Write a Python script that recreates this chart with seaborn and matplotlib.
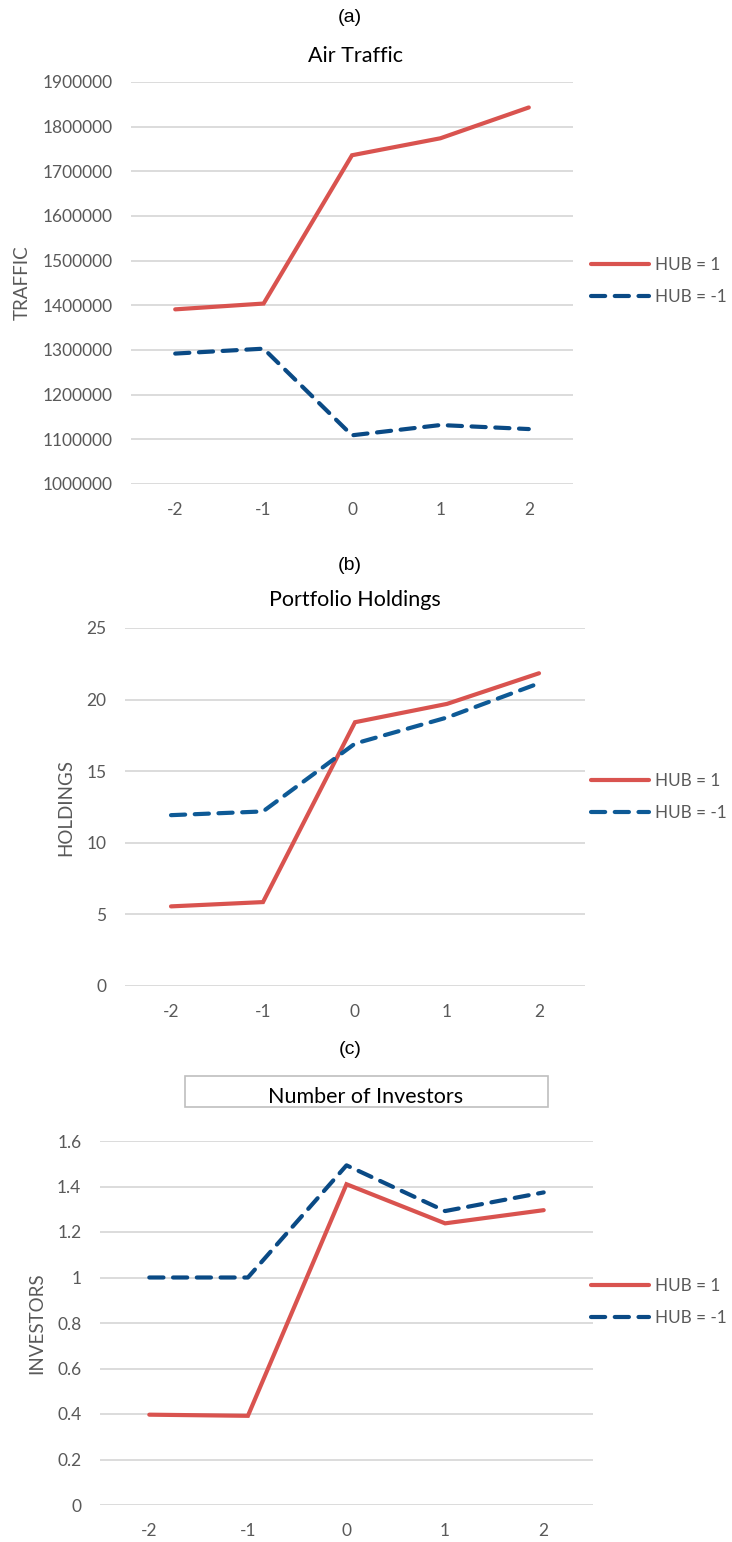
import matplotlib
matplotlib.use("Agg")
import matplotlib.pyplot as plt
import seaborn as sns
import pandas as pd
from matplotlib.patches import Rectangle

# event time
periods = [-2, -1, 0, 1, 2]
labels = ["HUB = 1", "HUB = -1"]

traffic_hub = [1391000, 1404000, 1736000, 1774000, 1843000]
traffic_nohub = [1292000, 1303000, 1109000, 1132000, 1123000]

holdings_hub = [5.56, 5.86, 18.42, 19.7, 21.84]
holdings_nohub = [11.93, 12.19, 16.93, 18.75, 21.14]

investors_hub = [0.397, 0.392, 1.41, 1.238, 1.296]
investors_nohub = [1.0, 1.0, 1.493, 1.292, 1.374]

W, H = 732, 1542
RED = "#D9534F"
BLUE = "#0A4A85"
GRID = "#D9D9D9"
TXT = "#595959"
TICK_FS = 12.5
TITLE_FS = 15.5

sns.set_theme(style="white")
plt.rcParams["font.family"] = ["Lato", "DejaVu Sans"]


def make_frame(hub, nohub):
    return pd.DataFrame({
        "t": periods * 2,
        "value": hub + nohub,
        "HUB": [labels[0]] * 5 + [labels[1]] * 5,
    })


def px_axes(fig, left, right, top, bottom):
    return fig.add_axes([left / W, 1 - bottom / H, (right - left) / W, (bottom - top) / H])


def draw_panel(fig, box, hub, nohub, ylim, yticks, ylabel, ylabel_x, legend_y, blue=BLUE):
    left, right, top, bottom = box
    ax = px_axes(fig, left, right, top, bottom)
    df = make_frame(hub, nohub)
    sns.lineplot(data=df, x="t", y="value", hue="HUB", style="HUB",
                 palette={labels[0]: RED, labels[1]: blue},
                 dashes={labels[0]: "", labels[1]: (3.4, 2.3)},
                 linewidth=3, ax=ax, legend=False)
    for ln in ax.get_lines():
        ln.set_dash_capstyle("round")
        ln.set_solid_capstyle("round")
        ln.set_solid_joinstyle("miter")
    ax.set_xlim(-2.5, 2.5)
    ax.set_ylim(*ylim)
    ax.set_xticks(periods)
    ax.set_xticklabels([str(p) for p in periods])
    ax.set_yticks(yticks)
    ax.set_yticklabels([f"{v:g}" if v < 100 else f"{int(v)}" for v in yticks])
    for y in yticks:
        ax.axhline(y, color=GRID, lw=1.3, zorder=0)
    for s in ax.spines.values():
        s.set_visible(False)
    ax.tick_params(axis="both", length=0, labelsize=TICK_FS, colors=TXT)
    ax.tick_params(axis="y", pad=13.5)
    ax.tick_params(axis="x", pad=13)
    ax.set_xlabel("")
    ax.set_ylabel("")
    fig.text(ylabel_x / W, 1 - ((top + bottom) / 2) / H, ylabel, rotation=90,
             ha="center", va="center", fontsize=13.5, color=TXT)

    handles = [plt.Line2D([], [], color=RED, lw=3, solid_capstyle="round"),
               plt.Line2D([], [], color=blue, lw=3, ls=(0, (3.4, 2.3)),
                          dash_capstyle="round")]
    fig.legend(handles, labels, loc="center left",
               bbox_to_anchor=(591 / W, 1 - legend_y / H), frameon=False,
               fontsize=12.3, labelcolor=TXT, handlelength=3.4, handletextpad=0.35,
               labelspacing=0.9, borderaxespad=0, borderpad=0)
    return ax


fig = plt.figure(figsize=(W / 100, H / 100), dpi=100)

paren_font = ["Liberation Sans", "DejaVu Sans"]

# (a)
fig.text(350 / W, 1 - 18 / H, "(a)", ha="center", va="center", fontsize=14,
         family=paren_font, color="black")
fig.text(355 / W, 1 - 56 / H, "Air Traffic", ha="center", va="center",
         fontsize=TITLE_FS, color="black")
draw_panel(fig, (131, 573, 82, 484), traffic_hub, traffic_nohub,
           (1000000, 1900000), list(range(1000000, 1900001, 100000)),
           "TRAFFIC", 22, 281)

# (b)
fig.text(350 / W, 1 - 566 / H, "(b)", ha="center", va="center", fontsize=14,
         family=paren_font, color="black")
fig.text(355 / W, 1 - 600 / H, "Portfolio Holdings", ha="center", va="center",
         fontsize=TITLE_FS, color="black")
draw_panel(fig, (125, 585, 628, 986), holdings_hub, holdings_nohub,
           (0, 25), [0, 5, 10, 15, 20, 25], "HOLDINGS", 66, 797, blue="#0E5A96")

# (c)
fig.text(350 / W, 1 - 1050 / H, "(c)", ha="center", va="center", fontsize=14,
         family=paren_font, color="black")
fig.patches.append(Rectangle((185 / W, 1 - 1107 / H), (548 - 185) / W, 31 / H,
                             transform=fig.transFigure, fill=False,
                             edgecolor="#BFBFBF", lw=1.2))
fig.text(366 / W, 1 - 1097 / H, "Number of Investors", ha="center", va="center",
         fontsize=TITLE_FS, color="black")
draw_panel(fig, (100, 593, 1141, 1505), investors_hub, investors_nohub,
           (0, 1.6), [0, 0.2, 0.4, 0.6, 0.8, 1.0, 1.2, 1.4, 1.6], "INVESTORS", 37, 1302)

fig.savefig("out.png", dpi=100)
